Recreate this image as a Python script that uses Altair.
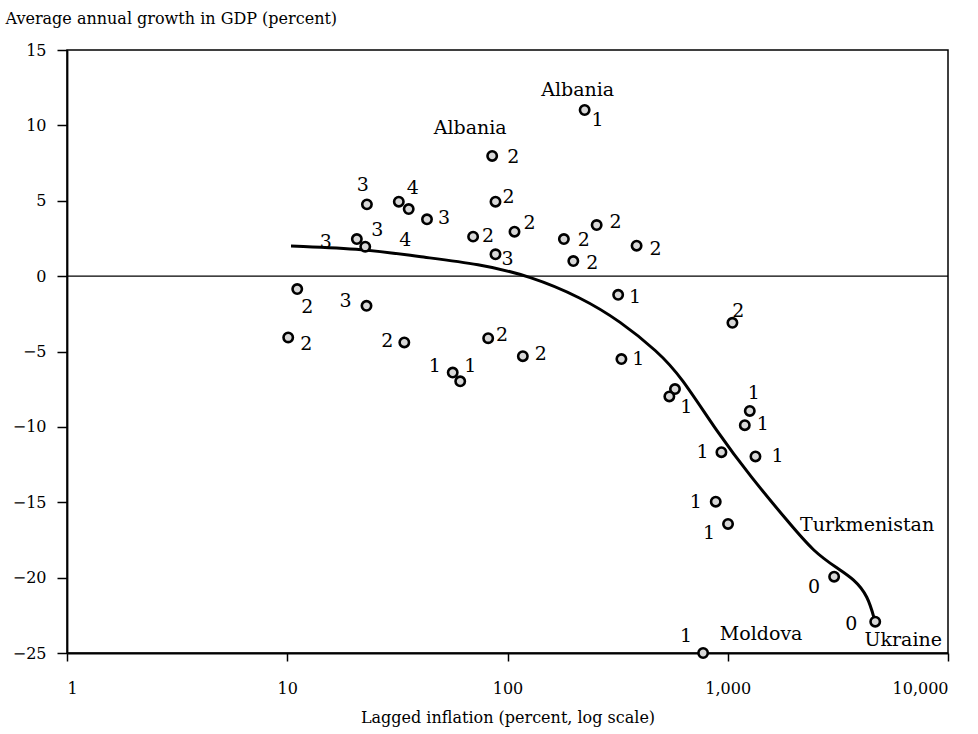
import altair as alt
import pandas as pd

# Country-period observations: lagged inflation (%) and average GDP growth (%)
inflation = [11.1, 22.9, 10.1, 34.0, 81.7, 117.4, 56.4, 61.0,
             85.2, 23.0, 32.1, 35.6, 20.7, 22.6, 43.1, 69.8, 88.2, 88.2,
             224, 107.6, 180.3, 254, 199, 385.6, 318, 1050, 329, 576, 543,
             1259, 1195, 936, 1336, 882, 1003, 3041, 4673, 773]
growth = [-0.86, -1.97, -4.07, -4.4, -4.12, -5.31, -6.4, -6.98,
          7.97, 4.76, 4.94, 4.45, 2.46, 1.95, 3.77, 2.62, 1.45, 4.94,
          11.02, 2.95, 2.46, 3.39, 1.0, 2.02, -1.24, -3.1, -5.5, -7.49, -7.98,
          -8.94, -9.89, -11.68, -11.96, -14.96, -16.44, -19.94, -22.92, -25.0]

# Annotations: which observation, the text, and its offset from the marker
ann_point = [0, 1, 2, 3, 4, 5, 6, 7, 8, 8, 9, 10, 12, 13, 13, 14, 15, 16, 17,
             18, 18, 19, 20, 21, 22, 23, 24, 25, 26, 28, 29, 30, 31, 32, 33,
             34, 35, 35, 36, 36, 37, 37]
ann_text = ["2", "3", "2", "2", "2", "2", "1", "1", "2", "Albania", "3", "4",
            "3", "3", "4", "3", "2", "3", "2",
            "1", "Albania", "2", "2", "2", "2", "2", "1", "2", "1", "1", "1",
            "1", "1", "1", "1", "1", "0", "Turkmenistan", "0", "Ukraine",
            "1", "Moldova"]
ann_dx = [10, -21, 18, -17, 14, 18, -18, 10, 21, -22, -4, 14,
          -31, 12, 40, 17, 15, 12, 13,
          13, -7, 15, 20, 19, 19, 19, 17, 6, 17, 17, 4,
          18, -19, 22, -20, -19, -20, 33, -24, 28,
          -17, 58]
ann_dy = [18, -5, 7, -1, -3, -2, -7, -15, 1, -28, -19, -14,
          3, -17, -7, -1, -1, 5, -5,
          10, -20, -9, 1, -3, 2, 3, 2, -12, 0, 11, -18,
          -1, 0, 0, 0, 9, 10, -52, 2, 18,
          -17, -19]

# Fitted relationship between inflation and growth
fit_x = [10.4, 22.6, 39, 75, 127, 215, 326, 480, 610, 900, 1270, 1880,
         2460, 3160, 3740, 4330, 4660]
fit_y = [2.0, 1.8, 1.3, 0.8, 0.0, -1.4, -3.0, -5.0, -6.6, -10.4, -13.3,
         -16.3, -18.3, -19.4, -20.1, -21.2, -22.9]

x_ticks = [1, 10, 100, 1000, 10000]
y_ticks = [-25, -20, -15, -10, -5, 0, 5, 10, 15]

FONT = "DejaVu Serif"

points = pd.DataFrame({"inflation": inflation, "growth": growth})
notes = pd.DataFrame({
    "inflation": [inflation[i] for i in ann_point],
    "growth": [growth[i] for i in ann_point],
    "text": ann_text,
    "dx": ann_dx,
    "dy": ann_dy,
})
fit = pd.DataFrame({"inflation": fit_x, "growth": fit_y})

x_enc = alt.X(
    "inflation:Q",
    scale=alt.Scale(type="log", domain=[1, 10000], nice=False),
    axis=alt.Axis(
        values=x_ticks, format=",", title="Lagged inflation (percent, log scale)",
        tickSize=8, labelPadding=19, labelFontSize=16, titleFontSize=16,
        titleFontWeight="normal", titleY=64, titleBaseline="middle",
    ),
)
y_enc = alt.Y(
    "growth:Q",
    scale=alt.Scale(domain=[-25, 15], nice=False, zero=False),
    axis=alt.Axis(
        values=y_ticks, title="Average annual growth in GDP (percent)",
        tickSize=10, labelPadding=11, labelFontSize=16, titleFontSize=16,
        titleFontWeight="normal", titleAngle=0, titleAlign="left",
        titleBaseline="middle", titleX=-62, titleY=-32,
    ),
)

zero_line = alt.Chart(pd.DataFrame({"growth": [0]})).mark_rule(
    color="black", strokeWidth=1.2
).encode(y="growth:Q")

curve = alt.Chart(fit).mark_line(
    color="black", strokeWidth=3, interpolate="basis"
).encode(x=x_enc, y=y_enc)

markers = alt.Chart(points).mark_point(
    shape="circle", size=88, filled=True, fill="#d8d8d8", stroke="black",
    strokeWidth=2.6, opacity=1
).encode(x=x_enc, y=y_enc)

# each label is shifted off its marker by its own dx/dy (pixels)
labels = alt.Chart(notes).mark_text(
    font=FONT, fontSize=19, color="black", align="center", baseline="middle",
    dx=alt.ExprRef(expr="datum.dx"), dy=alt.ExprRef(expr="datum.dy"),
).encode(x=x_enc, y=y_enc, text="text:N")

chart = alt.layer(zero_line, curve, markers, labels).properties(
    width=881,
    height=603,
    autosize=alt.AutoSizeParams(type="none"),
    padding={"left": 67, "top": 50, "right": 30, "bottom": 81},
    background="white",
).configure_view(
    stroke="black", strokeWidth=1.5
).configure_axis(
    grid=False, domainColor="black", domainWidth=1.8, tickColor="black",
    tickWidth=1.5, labelColor="black", titleColor="black",
    labelFont=FONT, titleFont=FONT,
)

chart.save("out.html", embed_options={"renderer": "svg", "actions": False})
